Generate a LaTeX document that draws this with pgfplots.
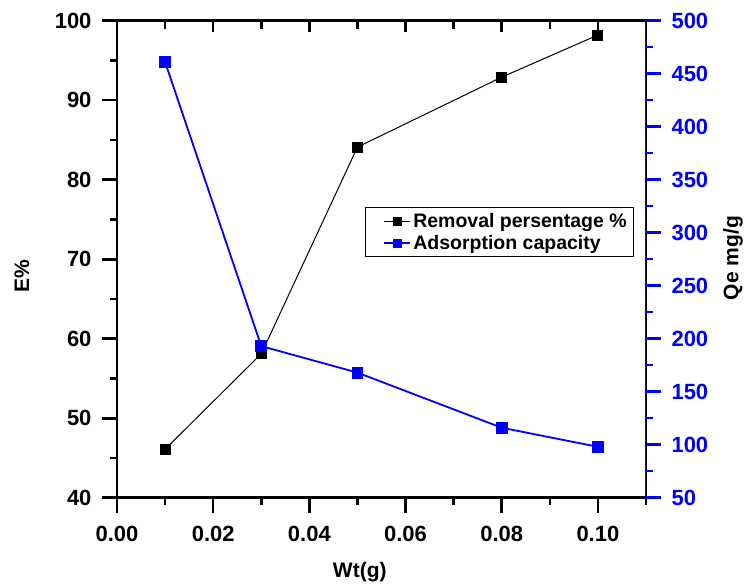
\documentclass[border=0pt]{standalone}
\usepackage{fontspec}
\setmainfont{Liberation Sans}
\usepackage{pgfplots}
\pgfplotsset{compat=1.18}
\definecolor{qblue}{RGB}{0,0,255}
\begin{document}
\begin{tikzpicture}
\path[use as bounding box] (-117bp,-86.3bp) rectangle (629bp,497.7bp);
\pgfplotsset{
  every axis/.append style={
    width=529bp, height=477bp, scale only axis,
    xmin=0, xmax=0.11,
    /pgf/number format/assume math mode=true,
    tick label style={font=\fontsize{22bp}{26bp}\selectfont\bfseries},
    label style={font=\fontsize{21bp}{25bp}\selectfont\bfseries},
    axis line style={line width=2.6bp},
    every tick/.style={black, line width=2.6bp},
  }
}
% left / bottom axis (box)
\begin{axis}[
  ymin=40, ymax=100,
  xtick={0,0.02,0.04,0.06,0.08,0.10},
  minor xtick={0.01,0.03,0.05,0.07,0.09,0.11},
  ytick={40,50,60,70,80,90,100},
  minor ytick={45,55,65,75,85,95},
  xtick pos=bottom, ytick pos=left,
  tick align=outside,
  major tick length=15bp, minor tick length=7bp,
  scaled x ticks=false,
  xticklabel style={yshift=-10bp, /pgf/number format/.cd, fixed, fixed zerofill, precision=2},
  yticklabel style={xshift=-7bp, /pgf/number format/.cd, fixed, precision=0},
  xlabel={Wt(g)}, ylabel={E\%},
  xlabel style={at={(axis description cs:0.459,-0.156)}, anchor=center},
  ylabel style={at={(axis description cs:-0.1796,0.464)}, anchor=center},
]
\addplot[black, line width=1bp, mark=square*, mark size=5bp, mark options={solid, fill=black}]
  coordinates {(0.01,46.1) (0.03,58.1) (0.05,84.1) (0.08,92.9) (0.10,98.2)};
\end{axis}
% top ticks (inside)
\begin{axis}[
  ymin=40, ymax=100,
  ytick=\empty,
  xtick={0,0.02,0.04,0.06,0.08,0.10},
  minor xtick={0.01,0.03,0.05,0.07,0.09,0.11},
  xtick pos=top, xticklabels={}, tick align=inside,
  major tick length=11bp, minor tick length=8bp,
  axis line style={draw=none},
]
\end{axis}
% right axis
\begin{axis}[
  ymin=50, ymax=500,
  xtick=\empty,
  ytick={50,100,...,500},
  minor ytick={75,125,...,475},
  ytick pos=right, yticklabel pos=right,
  tick align=outside,
  major tick length=15bp, minor tick length=7bp,
  axis line style={draw=none},
  every tick/.style={qblue, line width=2.6bp},
  yticklabel style={text=qblue, xshift=7bp, /pgf/number format/.cd, fixed, precision=0},
  ylabel={Qe mg/g},
  ylabel style={at={(axis description cs:1.1645,0.5025)}, anchor=center, rotate=0},
  legend style={at={(rel axis cs:0.469,0.609)}, anchor=north west,
    draw=black, line width=0.8bp, font=\fontsize{19.5bp}{22bp}\selectfont\bfseries,
    inner xsep=5bp, inner ysep=4bp, row sep=2bp, cells={anchor=west}},
  legend image code/.code={
    \path (0bp,0bp);
    \draw[#1, mark=none] (13bp,0bp) -- (39bp,0bp);
    \draw[#1, mark size=3.6bp, only marks] plot coordinates {(26bp,0bp)};
  },
]
\draw[qblue, line width=2.6bp] (rel axis cs:1,-0.0027) -- (rel axis cs:1,1.0027);
\addlegendimage{black, line width=1bp, mark=square*, mark options={solid, fill=black}}
\addlegendentry{Removal persentage \%}
\addplot[qblue, line width=1.8bp, mark=square*, mark size=5bp, mark options={solid, fill=qblue}]
  coordinates {(0.01,461) (0.03,193) (0.05,168) (0.08,116) (0.10,98)};
\addlegendentry{Adsorption capacity}
\end{axis}
\end{tikzpicture}
\end{document}
